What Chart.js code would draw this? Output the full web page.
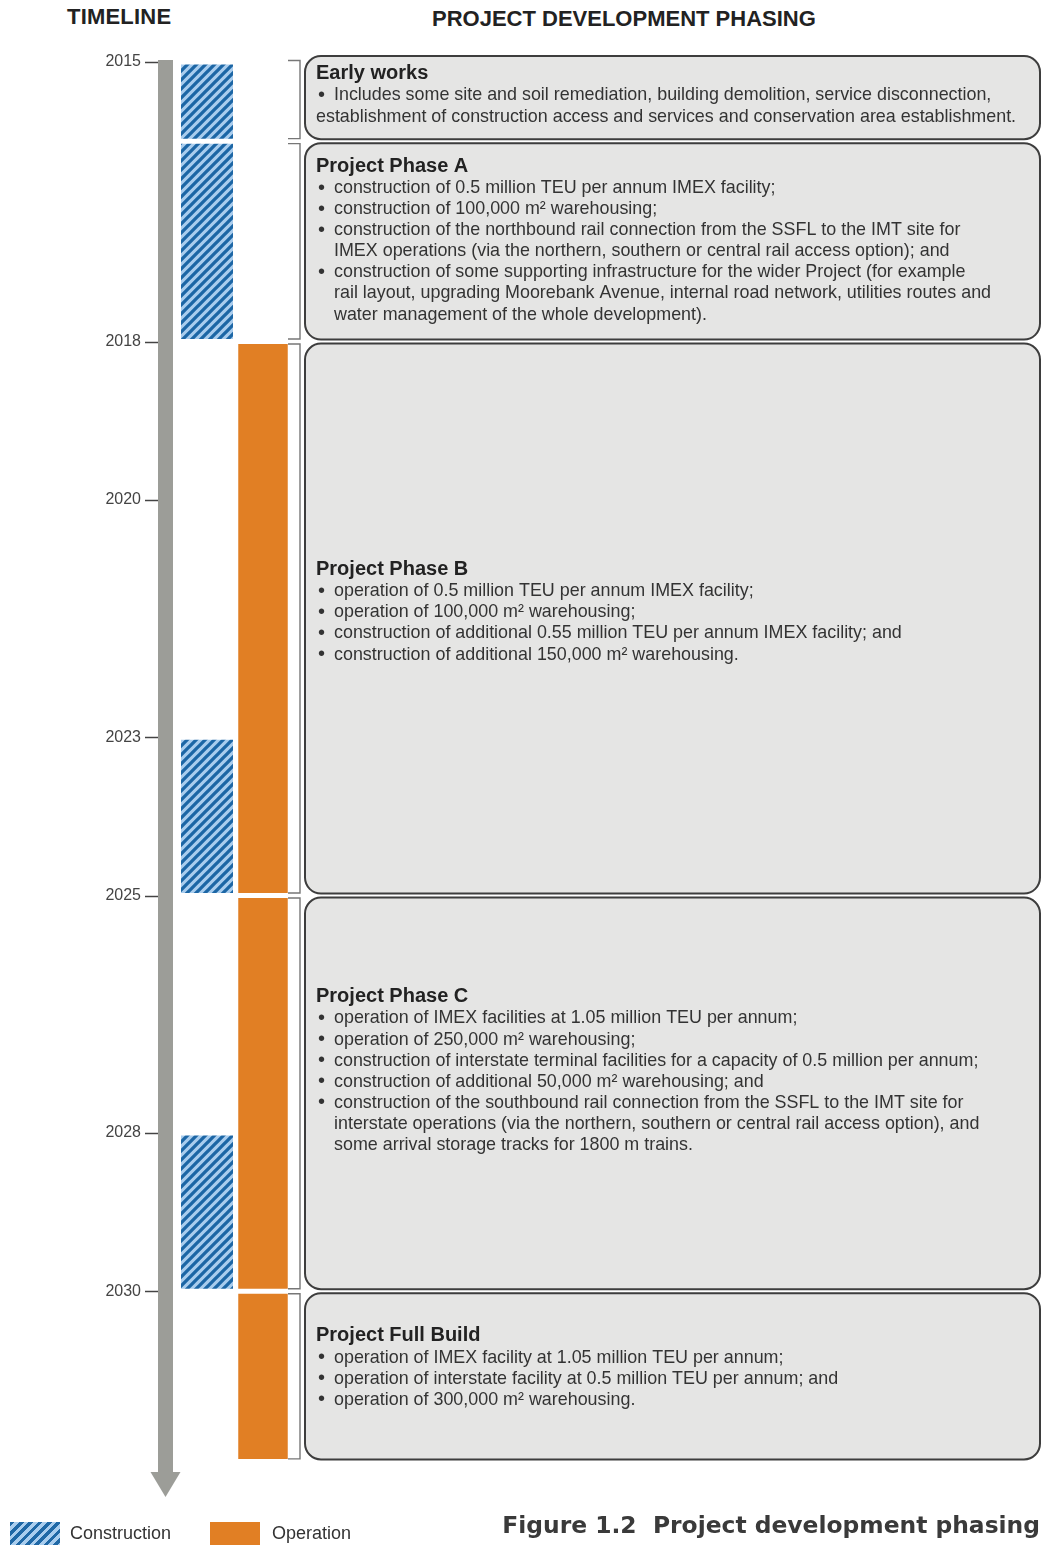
<!DOCTYPE html>
<html>
<head>
<meta charset="utf-8">
<script src="https://cdn.jsdelivr.net/npm/chart.js@4.4.1/dist/chart.umd.min.js"></script>
<style>
  html, body { margin: 0; padding: 0; background: #fff; }
  #wrap { position: relative; width: 1042px; height: 1545px; overflow: hidden; font-family: "Liberation Sans", Arial, sans-serif; color: #333; }
  #c { position: absolute; left: 0; top: 0; }
  .hdr { position: absolute; font-weight: bold; font-size: 22px; line-height: 22px; color: #222; white-space: nowrap; }
  .sw { position: absolute; top: 1522px; width: 50px; height: 26px; }
  .lg { position: absolute; top: 1522px; font-size: 18px; line-height: 22px; color: #333; white-space: nowrap; }
  #cap { position: absolute; right: 2px; top: 1512px; font-family: "DejaVu Sans", sans-serif; font-weight: bold; font-size: 23.4px; line-height: 26px; color: #3a3a3a; white-space: nowrap; }
</style>
</head>
<body>
<div id="wrap">
  <div class="hdr" style="left:67px; top:6px; letter-spacing:0.2px;">TIMELINE</div>
  <div class="hdr" style="left:432px; top:8px;">PROJECT DEVELOPMENT PHASING</div>
  <canvas id="c" width="1042" height="1545"></canvas>
  <div class="sw" style="left:10px; background: repeating-linear-gradient(135deg, #1f68a6 0 3.3px, #a9cdee 3.3px 6.6px);"></div>
  <div class="lg" style="left:70px;">Construction</div>
  <div class="sw" style="left:210px; background:#e17f24;"></div>
  <div class="lg" style="left:272px;">Operation</div>
  <div id="cap">Figure 1.2&nbsp;&nbsp;Project development phasing</div>
</div>
<script>
// ---------------- DATA ----------------
const columns = ['Construction', 'Operation'];
const tickYears = [2015, 2018, 2020, 2023, 2025, 2028, 2030];

const constructionStart = [2015, 2016, 2023, 2028];
const constructionEnd   = [2016, 2018, 2025, 2030];

const operationStart = [2018, 2025, 2030];
const operationEnd   = [2025, 2030, 2032.15];

const phaseNames = ['Early works', 'Project Phase A', 'Project Phase B', 'Project Phase C', 'Project Full Build'];
const phaseStart = [2015, 2016, 2018, 2025, 2030];
const phaseEnd   = [2016, 2018, 2025, 2030, 2032.15];
const phaseBullets = [
  [
    ['Includes some site and soil remediation, building demolition, service disconnection,',
     'establishment of construction access and services and conservation area establishment.']
  ],
  [
    ['construction of 0.5 million TEU per annum IMEX facility;'],
    ['construction of 100,000 m\u00B2 warehousing;'],
    ['construction of the northbound rail connection from the SSFL to the IMT site for',
     'IMEX operations (via the northern, southern or central rail access option); and'],
    ['construction of some supporting infrastructure for the wider Project (for example',
     'rail layout, upgrading Moorebank Avenue, internal road network, utilities routes and',
     'water management of the whole development).']
  ],
  [
    ['operation of 0.5 million TEU per annum IMEX facility;'],
    ['operation of 100,000 m\u00B2 warehousing;'],
    ['construction of additional 0.55 million TEU per annum IMEX facility; and'],
    ['construction of additional 150,000 m\u00B2 warehousing.']
  ],
  [
    ['operation of IMEX facilities at 1.05 million TEU per annum;'],
    ['operation of 250,000 m\u00B2 warehousing;'],
    ['construction of interstate terminal facilities for a capacity of 0.5 million per annum;'],
    ['construction of additional 50,000 m\u00B2 warehousing; and'],
    ['construction of the southbound rail connection from the SSFL to the IMT site for',
     'interstate operations (via the northern, southern or central rail access option), and',
     'some arrival storage tracks for 1800 m trains.']
  ],
  [
    ['operation of IMEX facility at 1.05 million TEU per annum;'],
    ['operation of interstate facility at 0.5 million TEU per annum; and'],
    ['operation of 300,000 m\u00B2 warehousing.']
  ]
];

// ---------------- SCALE (linear, with the 2016-2018 span drawn stretched as in the original) ----------------
class StretchScale extends Chart.LinearScale {
  warp(v) {
    const s = this.options.stretch;
    const d = Math.min(Math.max(v - s.from, 0), s.to - s.from);
    return v + (s.factor - 1) * d;
  }
  unwarp(w) {
    const s = this.options.stretch;
    const hiW = s.from + (s.to - s.from) * s.factor;
    if (w <= s.from) return w;
    if (w <= hiW) return s.from + (w - s.from) / s.factor;
    return w - (s.factor - 1) * (s.to - s.from);
  }
  getPixelForValue(value) {
    if (value === null || value === undefined || isNaN(value)) return NaN;
    const a = this.warp(this.min), b = this.warp(this.max);
    return this.getPixelForDecimal((this.warp(value) - a) / (b - a));
  }
  getValueForPixel(pixel) {
    const a = this.warp(this.min), b = this.warp(this.max);
    return this.unwarp(a + this.getDecimalForPixel(pixel) * (b - a));
  }
}
StretchScale.id = 'stretchLinear';
StretchScale.defaults = {};
Chart.register(StretchScale);

// ---------------- PATTERN ----------------
function makeHatch() {
  const s = 9;
  const c = document.createElement('canvas');
  c.width = s; c.height = s;
  const g = c.getContext('2d');
  g.fillStyle = '#a9cdee';
  g.fillRect(0, 0, s, s);
  g.strokeStyle = '#1c66a5';
  g.lineWidth = 3.3;
  g.lineCap = 'square';
  g.beginPath();
  g.moveTo(-2, 2); g.lineTo(2, -2);
  g.moveTo(-1, s + 1); g.lineTo(s + 1, -1);
  g.moveTo(s - 2, s + 2); g.lineTo(s + 2, s - 2);
  g.stroke();
  return document.getElementById('c').getContext('2d').createPattern(c, 'repeat');
}

// ---------------- PLUGIN: arrow axis + phase boxes ----------------
function roundRectPath(ctx, x, y, w, h, r) {
  ctx.beginPath();
  ctx.moveTo(x + r, y);
  ctx.lineTo(x + w - r, y);
  ctx.arcTo(x + w, y, x + w, y + r, r);
  ctx.lineTo(x + w, y + h - r);
  ctx.arcTo(x + w, y + h, x + w - r, y + h, r);
  ctx.lineTo(x + r, y + h);
  ctx.arcTo(x, y + h, x, y + h - r, r);
  ctx.lineTo(x, y + r);
  ctx.arcTo(x, y, x + r, y, r);
  ctx.closePath();
}

const timelinePlugin = {
  id: 'timeline',
  beforeDatasetsDraw(chart, args, o) {
    const ctx = chart.ctx, a = chart.chartArea, ys = chart.scales.y;
    ctx.save();
    // arrow
    ctx.fillStyle = o.arrowColor;
    const headTop = a.bottom - o.headLength;
    ctx.fillRect(o.shaftLeft, a.top - 2, o.shaftRight - o.shaftLeft, headTop - a.top + 3);
    const cx = (o.shaftLeft + o.shaftRight) / 2;
    ctx.beginPath();
    ctx.moveTo(cx - o.headHalf, headTop);
    ctx.lineTo(cx + o.headHalf, headTop);
    ctx.lineTo(cx, a.bottom);
    ctx.closePath();
    ctx.fill();
    // tick marks
    ctx.strokeStyle = o.tickColor;
    ctx.lineWidth = 1.5;
    ys.ticks.forEach((t, i) => {
      const py = Math.round(ys.getPixelForTick(i)) + 0.5;
      ctx.beginPath();
      ctx.moveTo(o.tickLeft, py);
      ctx.lineTo(o.shaftLeft, py);
      ctx.stroke();
    });
    ctx.restore();
  },
  afterDatasetsDraw(chart, args, o) {
    const ctx = chart.ctx, ys = chart.scales.y;
    ctx.save();
    phaseNames.forEach((name, i) => {
      const top = ys.getPixelForValue(phaseStart[i]) + o.gap - o.topExtend[i];
      const bottom = ys.getPixelForValue(phaseEnd[i]) - o.gap;
      // bracket
      ctx.strokeStyle = o.bracketColor;
      ctx.lineWidth = 1.4;
      ctx.beginPath();
      ctx.moveTo(o.bracketLeft, top + 0.5 + o.topExtend[i] / 2);
      ctx.lineTo(o.bracketX, top + 0.5 + o.topExtend[i] / 2);
      ctx.lineTo(o.bracketX, bottom - 0.5);
      ctx.lineTo(o.bracketLeft, bottom - 0.5);
      ctx.stroke();
      // box
      roundRectPath(ctx, o.boxLeft, top, o.boxRight - o.boxLeft, bottom - top, o.radius);
      ctx.fillStyle = o.boxFill;
      ctx.fill();
      ctx.strokeStyle = o.boxStroke;
      ctx.lineWidth = 2;
      ctx.stroke();
      // text
      const bullets = phaseBullets[i];
      const nLines = 1 + bullets.reduce((s, b) => s + b.length, 0);
      const lh = o.lineHeight;
      let y = (top + bottom) / 2 - nLines * lh / 2 + lh / 2 + o.textShift[i];
      ctx.textBaseline = 'middle';
      ctx.textAlign = 'left';
      ctx.fillStyle = o.titleColor;
      ctx.font = 'bold ' + o.titleSize + 'px "Liberation Sans", Arial, sans-serif';
      ctx.fillText(name, o.titleX, y);
      y += o.titleGap;
      bullets.forEach(lines => {
        lines.forEach((ln, k) => {
          ctx.fillStyle = o.textColor;
          if (k === 0) {
            ctx.font = o.bulletSize + 'px "Liberation Sans", Arial, sans-serif';
            ctx.fillText('\u2022', o.bulletX, y);
          }
          ctx.font = o.textSize + 'px "Liberation Sans", Arial, sans-serif';
          const x = (k === 0 || o.hanging[i]) ? o.textX : o.titleX;
          ctx.fillText(ln, x, y);
          y += lh;
        });
      });
    });
    ctx.restore();
  }
};

// ---------------- CHART ----------------
Chart.defaults.font.family = '"Liberation Sans", Arial, sans-serif';
const hatch = makeHatch();

new Chart(document.getElementById('c'), {
  type: 'bar',
  data: {
    labels: columns,
    datasets: [
      {
        label: 'Construction',
        data: constructionStart.map((s, i) => ({ x: columns[0], y: [s, constructionEnd[i]] })),
        backgroundColor: hatch,
        borderWidth: 0,
        barThickness: 57,
        inflateAmount: -2.5,
        grouped: false
      },
      {
        label: 'Operation',
        data: operationStart.map((s, i) => ({ x: columns[1], y: [s, operationEnd[i]] })),
        backgroundColor: '#e17f24',
        borderWidth: 0,
        barThickness: 54.5,
        inflateAmount: -2.5,
        grouped: false
      }
    ]
  },
  options: {
    responsive: false,
    animation: false,
    events: [],
    layout: { padding: { left: 0, right: 751, top: 62, bottom: 48 } },
    plugins: {
      legend: { display: false },
      tooltip: { enabled: false },
      timeline: {
        arrowColor: '#9c9d98', shaftLeft: 158, shaftRight: 173, headHalf: 15, headLength: 25,
        tickColor: '#444', tickLeft: 145,
        gap: 2, topExtend: [8, 0, 0, 0, 0],
        bracketColor: '#777', bracketLeft: 288, bracketX: 300,
        boxLeft: 305, boxRight: 1040, radius: 16, boxFill: '#e5e5e4', boxStroke: '#3d3d3d',
        titleX: 316, bulletX: 318, textX: 334,
        titleSize: 20, textSize: 17.9, bulletSize: 20, lineHeight: 21.1, titleGap: 22,
        titleColor: '#222', textColor: '#333',
        textShift: [-3, -1.5, -7, -23, -9],
        hanging: [false, true, true, true, true]
      }
    },
    scales: {
      x: { type: 'category', display: false, offset: true },
      y: {
        type: 'stretchLinear',
        min: 2015,
        max: 2032.6,
        reverse: true,
        stretch: { from: 2016, to: 2018, factor: 1.266 },
        afterBuildTicks: s => { s.ticks = tickYears.map(v => ({ value: v })); },
        afterFit: s => { s.width = 179; },
        grid: { display: false, drawTicks: true, tickLength: 33 },
        border: { display: false },
        ticks: {
          padding: 5,
          color: '#444',
          font: { size: 16 },
          autoSkip: false,
          callback: v => String(v)
        }
      }
    }
  },
  plugins: [timelinePlugin]
});
</script>
</body>
</html>
